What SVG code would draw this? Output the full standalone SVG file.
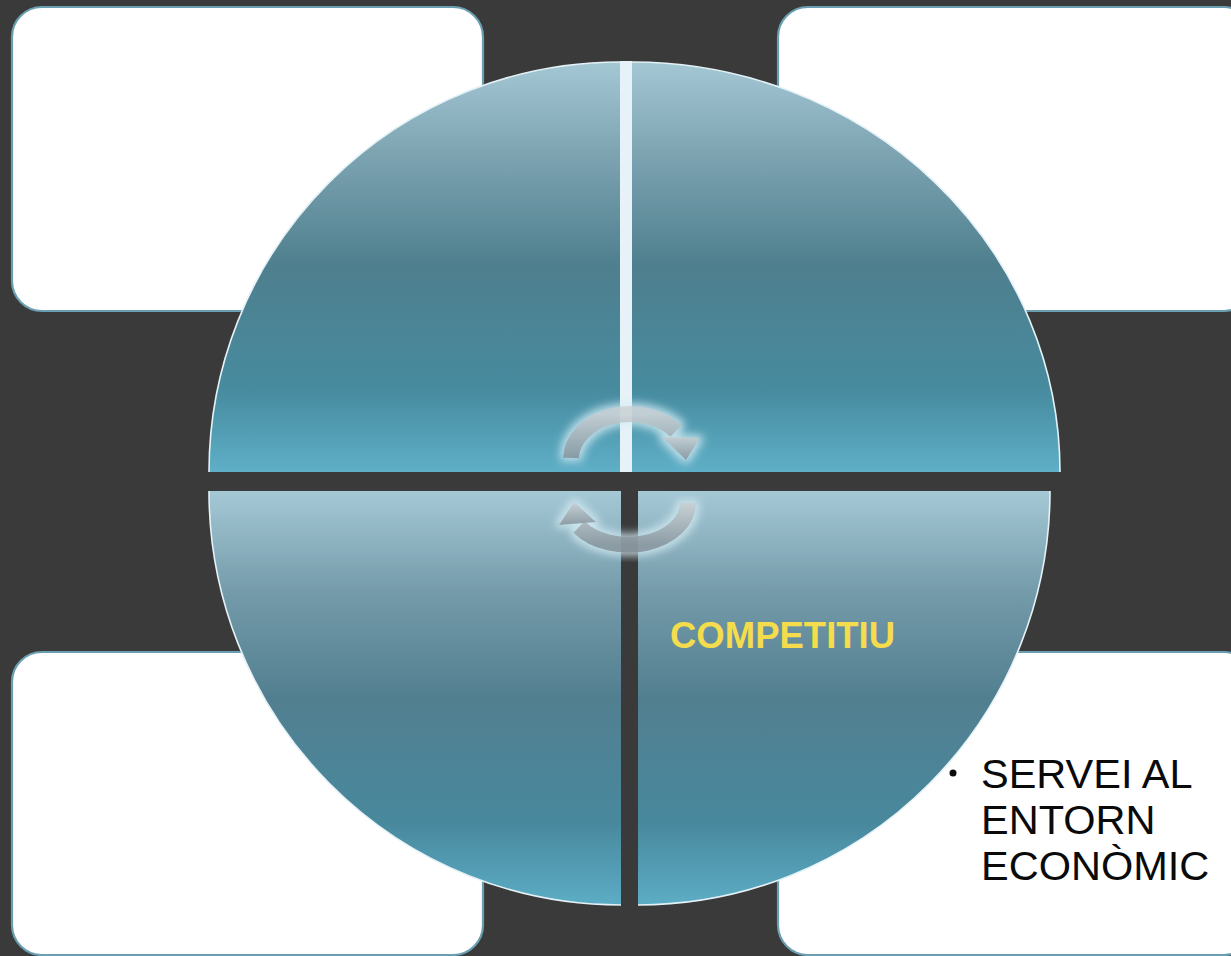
<svg xmlns="http://www.w3.org/2000/svg" width="1231" height="956" viewBox="0 0 1231 956">
  <style>
    .box { fill: #ffffff; stroke: #6a9fb1; stroke-width: 2.2; }
    .quad-edge { fill: none; stroke: #e4f2f7; stroke-width: 1.6; }
    .arrow-body { fill: none; stroke: url(#arrowGrad); stroke-width: 16; }
    .arrow-head { fill: url(#arrowGrad); }
    .lbl-yellow { font-family: "Liberation Sans", Arial, sans-serif; font-weight: bold; font-size: 36.5px; fill: #f4dc4c; }
    .lbl-black { font-family: "Liberation Sans", Arial, sans-serif; font-size: 41.5px; fill: #0a0a0a; }
  </style>
  <defs>
    <linearGradient id="gTop" gradientUnits="userSpaceOnUse" x1="0" y1="62" x2="0" y2="472">
      <stop offset="0" stop-color="#a4c7d4"/>
      <stop offset="0.22" stop-color="#7ea4b2"/>
      <stop offset="0.5" stop-color="#4e7f8e"/>
      <stop offset="0.8" stop-color="#478b9f"/>
      <stop offset="1" stop-color="#5eafc7"/>
    </linearGradient>
    <linearGradient id="gBot" gradientUnits="userSpaceOnUse" x1="0" y1="491" x2="0" y2="905">
      <stop offset="0" stop-color="#a5c8d5"/>
      <stop offset="0.25" stop-color="#739aa9"/>
      <stop offset="0.5" stop-color="#527f90"/>
      <stop offset="0.8" stop-color="#48889d"/>
      <stop offset="1" stop-color="#5cadc5"/>
    </linearGradient>
    <linearGradient id="arrowGrad" x1="0" y1="0" x2="0" y2="1">
      <stop offset="0" stop-color="#cbd3d7"/>
      <stop offset="1" stop-color="#8d9ba3"/>
    </linearGradient>
    <filter id="glow" x="-30%" y="-40%" width="160%" height="180%">
      <feMorphology in="SourceAlpha" operator="dilate" radius="3" result="d"/>
      <feGaussianBlur in="d" stdDeviation="4" result="b"/>
      <feFlood flood-color="#d4ecf4" flood-opacity="0.9"/>
      <feComposite in2="b" operator="in" result="g"/>
      <feMerge>
        <feMergeNode in="g"/>
        <feMergeNode in="SourceGraphic"/>
      </feMerge>
    </filter>
  </defs>

  <rect x="0" y="0" width="1231" height="956" fill="#3a3a3a"/>

  <g id="box-tl"><rect class="box" x="12" y="7" width="471" height="304" rx="30" ry="30"/></g>
  <g id="box-tr"><rect class="box" x="778" y="7" width="476" height="304" rx="30" ry="30"/></g>
  <g id="box-bl"><rect class="box" x="12" y="652" width="471" height="303" rx="30" ry="30"/></g>
  <g id="box-br"><rect class="box" x="778" y="652" width="476" height="303" rx="30" ry="30"/></g>

  <g id="quad-tl">
    <path d="M620,472 L209,472 A411,410 0 0 1 620,62 Z" fill="url(#gTop)"/>
    <path class="quad-edge" d="M209,472 A411,410 0 0 1 620,62"/>
  </g>
  <g id="quad-tr">
    <path d="M632,472 L632,62 A428,410 0 0 1 1060,472 Z" fill="url(#gTop)"/>
    <path class="quad-edge" d="M632,62 A428,410 0 0 1 1060,472"/>
  </g>
  <rect id="divider" x="620" y="61" width="12" height="411" fill="#e6f2f7"/>
  <g id="quad-bl">
    <path d="M621,491 L621,905 A412,414 0 0 1 209,491 Z" fill="url(#gBot)"/>
    <path class="quad-edge" d="M621,905 A412,414 0 0 1 209,491"/>
  </g>
  <g id="quad-br">
    <path d="M638,491 L1050,491 A412,414 0 0 1 638,905 Z" fill="url(#gBot)"/>
    <path class="quad-edge" d="M1050,491 A412,414 0 0 1 638,905"/>
  </g>

  <g id="connectors">
    <g id="arrow-top" filter="url(#glow)" opacity="0.92">
      <path class="arrow-body" d="M571,458 A59,45 0 0 1 676,431"/>
      <polygon class="arrow-head" points="662,437 700,438 686,460"/>
    </g>
    <g id="arrow-bottom" filter="url(#glow)" opacity="0.92">
      <path class="arrow-body" d="M688,503 A60,42 0 0 1 579,527"/>
      <polygon class="arrow-head" points="559,525 596,522 574,502"/>
    </g>
  </g>

  <g id="label-competitiu">
    <text class="lbl-yellow" x="670" y="648">COMPETITIU</text>
  </g>
  <g id="label-servei">
    <circle cx="953" cy="773" r="3.5" fill="#0a0a0a"/>
    <text class="lbl-black" x="981" y="788">SERVEI AL</text>
    <text class="lbl-black" x="981" y="834">ENTORN</text>
    <text class="lbl-black" x="981" y="880">ECONÒMIC</text>
  </g>
</svg>
